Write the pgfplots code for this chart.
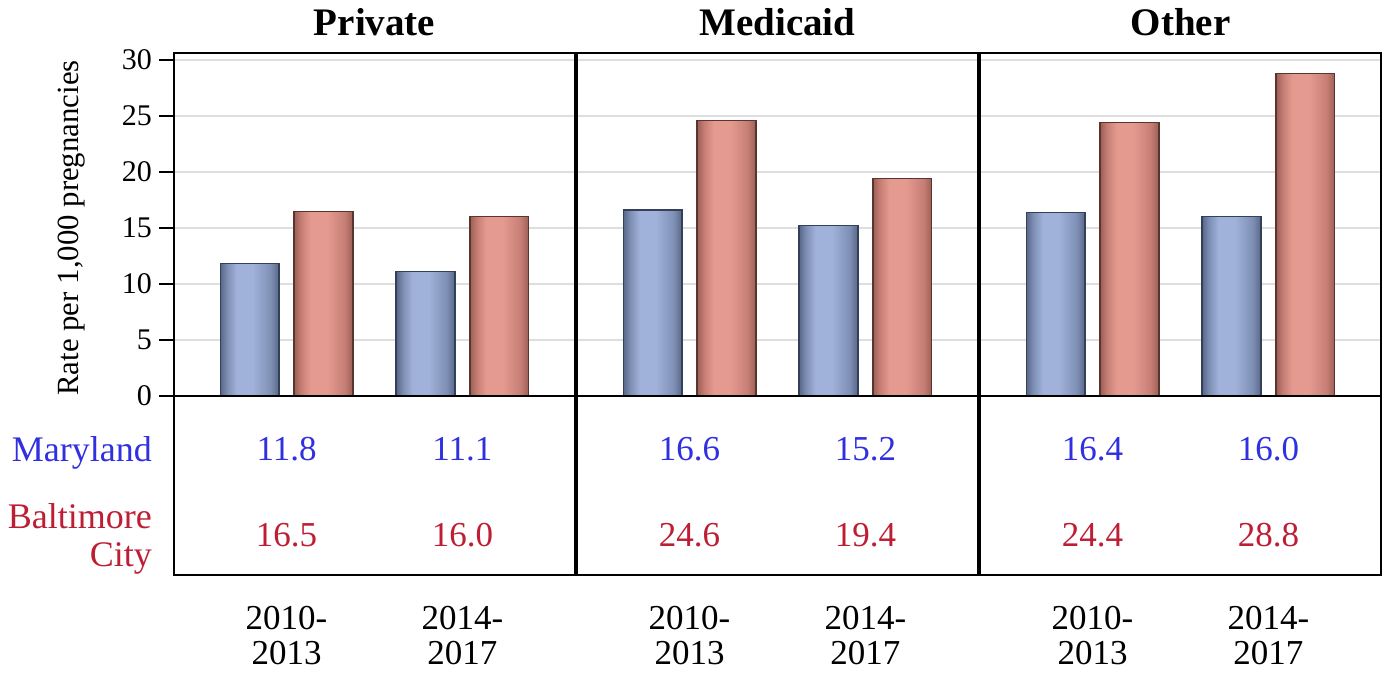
\documentclass[border=0pt]{standalone}
\usepackage{fontspec}
\setmainfont{Liberation Serif}
\usepackage{pgfplots}
\pgfplotsset{compat=1.18}

\definecolor{bluelight}{RGB}{160,178,218}
\definecolor{bluemid}{RGB}{126,143,180}
\definecolor{bluedark}{RGB}{88,103,136}
\definecolor{blueedge}{RGB}{52,63,90}
\definecolor{redlight}{RGB}{229,154,144}
\definecolor{redmid}{RGB}{198,126,116}
\definecolor{reddark}{RGB}{155,94,86}
\definecolor{rededge}{RGB}{90,52,47}
\definecolor{mdblue}{RGB}{48,48,224}
\definecolor{bcred}{RGB}{190,30,52}
\definecolor{gridgray}{RGB}{222,222,222}

\pgfdeclarehorizontalshading{bluebar}{100bp}{color(0bp)=(bluedark); color(25bp)=(bluedark); color(31bp)=(bluemid); color(39bp)=(bluelight); color(53bp)=(bluelight); color(68bp)=(bluemid); color(75bp)=(bluedark); color(100bp)=(bluedark)}
\pgfdeclarehorizontalshading{redbar}{100bp}{color(0bp)=(reddark); color(25bp)=(reddark); color(31bp)=(redmid); color(39bp)=(redlight); color(53bp)=(redlight); color(68bp)=(redmid); color(75bp)=(reddark); color(100bp)=(reddark)}

\tikzset{paneltitle/.style={anchor=center, yshift=15.5pt, font=\fontsize{19.5}{20}\selectfont\bfseries}}

\pgfplotsset{
  panel/.style={
    anchor=south west, scale only axis, width=200.5pt, height=261pt,
    xmin=-0.64, xmax=1.64, ymin=-16, ymax=30.625,
    xtick={0,1}, xticklabels={{2010-\\2013},{2014-\\2017}},
    xticklabel style={align=center, font=\fontsize{17.5}{17.5}\selectfont, yshift=-4.8pt},
    xtick style={draw=none},
    tick align=outside, major tick length=7.5pt,
    ytick={0,5,...,30}, ymajorgrids,
    major grid style={gridgray, line width=1pt},
    axis line style={line width=1pt},
    /pgf/number format/assume math mode=true,
    clip=false,
  },
  mdbar/.style={ybar, bar width=0.335, bar shift=-0.21, draw=blueedge, line width=0.6pt, shade, shading=bluebar},
  bcbar/.style={ybar, bar width=0.335, bar shift=0.21, draw=rededge, line width=0.6pt, shade, shading=redbar},
  mdrow/.style={draw=none, mark=none, nodes near coords, point meta=explicit symbolic,
    every node near coord/.append style={anchor=center, text=mdblue, font=\fontsize{17.5}{17.5}\selectfont}},
  bcrow/.style={draw=none, mark=none, nodes near coords, point meta=explicit symbolic,
    every node near coord/.append style={anchor=center, text=bcred, font=\fontsize{17.5}{17.5}\selectfont}},
}

\begin{document}
\begin{tikzpicture}
\path[use as bounding box] (0,0) rectangle (694pt,337.5pt);

% Private
\begin{axis}[panel, at={(87pt,50pt)},
  ytick pos=left, ytick style={black, line width=1pt},
  yticklabel style={font=\fontsize{15}{15}\selectfont},
  extra y ticks={-5.1,-12.75},
  extra y tick labels={{\color{mdblue}Maryland},{{\color{bcred}Baltimore}\\{\color{bcred}City}}},
  extra y tick style={grid=none, ytick style={draw=none},
    yticklabel style={align=right, font=\fontsize{18}{19}\selectfont}},
]
\addplot[mdbar] coordinates {(0,11.8)};
\addplot[mdbar] coordinates {(1,11.1)};
\addplot[bcbar] coordinates {(0,16.5)};
\addplot[bcbar] coordinates {(1,16.0)};
\addplot[mdrow] coordinates {(0,-4.8) [11.8] (1,-4.8) [11.1]};
\addplot[bcrow] coordinates {(0,-12.4) [16.5] (1,-12.4) [16.0]};
\draw[line width=1pt] (axis cs:-0.64,0) -- (axis cs:1.64,0);
\node[paneltitle] at (rel axis cs:0.5,1) {Private};
\node[rotate=90, font=\fontsize{15.4}{16}\selectfont] at ([xshift=-51pt]axis cs:-0.64,15) {Rate per 1,000 pregnancies};
\end{axis}

% Medicaid
\begin{axis}[panel, at={(288.5pt,50pt)},
  yticklabels={}, ytick style={draw=none}]
\addplot[mdbar] coordinates {(0,16.6)};
\addplot[mdbar] coordinates {(1,15.2)};
\addplot[bcbar] coordinates {(0,24.6)};
\addplot[bcbar] coordinates {(1,19.4)};
\addplot[mdrow] coordinates {(0,-4.8) [16.6] (1,-4.8) [15.2]};
\addplot[bcrow] coordinates {(0,-12.4) [24.6] (1,-12.4) [19.4]};
\draw[line width=1pt] (axis cs:-0.64,0) -- (axis cs:1.64,0);
\node[paneltitle] at (rel axis cs:0.5,1) {Medicaid};
\end{axis}

% Other
\begin{axis}[panel, at={(490pt,50pt)},
  yticklabels={}, ytick style={draw=none}]
\addplot[mdbar] coordinates {(0,16.4)};
\addplot[mdbar] coordinates {(1,16.0)};
\addplot[bcbar] coordinates {(0,24.4)};
\addplot[bcbar] coordinates {(1,28.8)};
\addplot[mdrow] coordinates {(0,-4.8) [16.4] (1,-4.8) [16.0]};
\addplot[bcrow] coordinates {(0,-12.4) [24.4] (1,-12.4) [28.8]};
\draw[line width=1pt] (axis cs:-0.64,0) -- (axis cs:1.64,0);
\node[paneltitle] at (rel axis cs:0.5,1) {Other};
\end{axis}
\end{tikzpicture}
\end{document}
